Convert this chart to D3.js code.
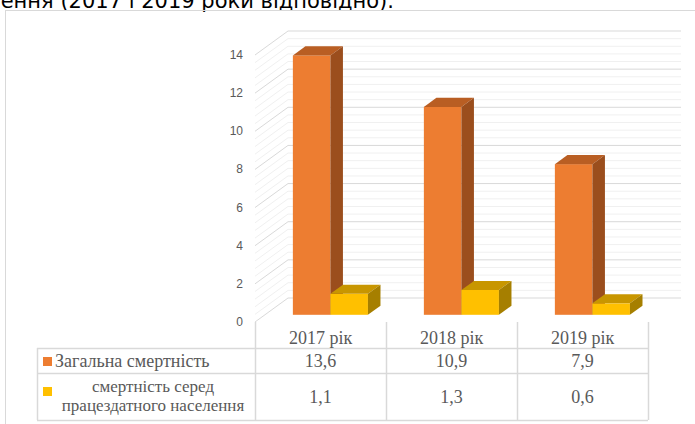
<!DOCTYPE html>
<html>
<head>
<meta charset="utf-8">
<script src="https://cdn.jsdelivr.net/npm/d3@7"></script>
<style>
  body { margin: 0; background: #fff; }
  svg { display: block; }
</style>
</head>
<body>
<div id="vis"></div>
<script>
// data
var categories = ["2017 рік", "2018 рік", "2019 рік"];
var seriesNames = ["Загальна смертність", "смертність серед працездатного населення"];
var totalMortality = [13.6, 10.9, 7.9];
var workingAgeMortality = [1.1, 1.3, 0.6];
var valueLabels = [["13,6", "10,9", "7,9"], ["1,1", "1,3", "0,6"]];
var yTicks = [0, 2, 4, 6, 8, 10, 12, 14];

var width = 695, height = 424;
var colors = [
  { front: "#ED7D31", top: "#B95E23", side: "#9B4E1D" },
  { front: "#FFC000", top: "#C89600", side: "#A67F00" }
];

var svg = d3.select("#vis").append("svg")
  .attr("width", width)
  .attr("height", height);

// text line from the document above the chart (cut off at the top)
svg.append("text")
  .attr("x", 394)
  .attr("y", 8)
  .attr("text-anchor", "end")
  .style("font-family", "DejaVu Sans")
  .style("font-size", "21px")
  .style("fill", "#000")
  .text("населення (2017 і 2019 роки відповідно).");

// chart frame
svg.append("rect")
  .attr("x", 5.5).attr("y", 10.5)
  .attr("width", 720).attr("height", 440)
  .attr("fill", "none")
  .attr("stroke", "#D9D9D9");

////////// scales //////////
var plotLeft = 255, plotRight = 648;
var depthX = 33, depthY = -24;   // floor depth offset
var x0 = d3.scaleBand()
  .domain(categories)
  .range([plotLeft, plotRight])
  .paddingInner(0.427)
  .paddingOuter(0.2135);
var x1 = d3.scaleBand()
  .domain([0, 1])
  .range([0, x0.bandwidth()]);
var y = d3.scaleLinear()
  .domain([0, 14])
  .range([322, 55]);

function px(xv, f) { return xv + depthX * f; }
function py(yv, f) { return yv + depthY * f; }

////////// walls //////////
var minorTicks = d3.range(0, 14.001, 0.4);
var grid = svg.append("g").attr("class", "grid");

function wallLine(v, color) {
  var g = grid.append("g");
  g.append("line")
    .attr("x1", plotLeft).attr("y1", y(v))
    .attr("x2", px(plotLeft, 1)).attr("y2", py(y(v), 1))
    .attr("stroke", color);
  g.append("line")
    .attr("x1", px(plotLeft, 1)).attr("y1", py(y(v), 1))
    .attr("x2", px(plotRight, 1)).attr("y2", py(y(v), 1))
    .attr("stroke", color);
}
minorTicks.forEach(function (v) {
  if (Math.abs(v / 2 - Math.round(v / 2)) > 1e-6) wallLine(v, "#F0F0F0");
});
yTicks.forEach(function (v) { wallLine(v, "#D9D9D9"); });

// y axis labels
svg.append("g")
  .selectAll("text")
  .data(yTicks)
  .enter()
  .append("text")
  .attr("x", 243)
  .attr("y", function (d) { return y(d) + 4; })
  .attr("text-anchor", "end")
  .style("font-family", "Liberation Sans")
  .style("font-size", "12px")
  .style("fill", "#595959")
  .text(function (d) { return d; });

////////// bars //////////
var f0 = 0.3, f1 = 0.68;
var seriesData = [totalMortality, workingAgeMortality];
var bars = svg.append("g").attr("class", "bars");

categories.forEach(function (cat, i) {
  seriesData.forEach(function (vals, s) {
    var v = vals[i];
    var xl = px(x0(cat) + x1(s), f0);
    var xr = xl + x1.bandwidth();
    var yt = py(y(v), f0);
    var yb = py(y(0), f0);
    var dx = depthX * (f1 - f0), dy = depthY * (f1 - f0);
    var g = bars.append("g");
    g.append("rect")
      .attr("x", xl).attr("y", yt)
      .attr("width", xr - xl).attr("height", yb - yt)
      .attr("fill", colors[s].front);
    g.append("polygon")
      .attr("points", [[xl, yt], [xl + dx, yt + dy], [xr + dx, yt + dy], [xr, yt]].join(" "))
      .attr("fill", colors[s].top);
    g.append("polygon")
      .attr("points", [[xr, yt], [xr + dx, yt + dy], [xr + dx, yb + dy], [xr, yb]].join(" "))
      .attr("fill", colors[s].side);
  });
});

////////// data table //////////
var tableLeft = 37;
var table = svg.append("g").attr("class", "table");
var lineColor = "#D9D9D9";

// horizontal lines
[348, 373, 420].forEach(function (yy) {
  table.append("line")
    .attr("x1", tableLeft).attr("x2", plotRight)
    .attr("y1", yy + 0.5).attr("y2", yy + 0.5)
    .attr("stroke", lineColor).attr("stroke-width", 1.5);
});
// vertical lines
table.append("line")
  .attr("x1", tableLeft + 0.5).attr("x2", tableLeft + 0.5)
  .attr("y1", 348).attr("y2", 420)
  .attr("stroke", lineColor).attr("stroke-width", 1.5);
var colEdges = categories.map(function (c) { return x0(c) - x0.step() * x0.paddingOuter(); });
colEdges.push(plotRight);
colEdges.forEach(function (xx) {
  table.append("line")
    .attr("x1", xx + 0.5).attr("x2", xx + 0.5)
    .attr("y1", 322).attr("y2", 420)
    .attr("stroke", lineColor).attr("stroke-width", 1.5);
});

var serif = "Liberation Serif";
function colCenter(c) { return x0(c) + x0.bandwidth() / 2; }

// header
table.selectAll("text.cat")
  .data(categories)
  .enter()
  .append("text")
  .attr("class", "cat")
  .attr("x", colCenter)
  .attr("y", 344)
  .attr("text-anchor", "middle")
  .style("font-family", serif)
  .style("font-size", "18px")
  .style("fill", "#595959")
  .text(function (d) { return d; });

// values
var rowBase = [367, 403];
valueLabels.forEach(function (row, s) {
  table.selectAll("text.v" + s)
    .data(row)
    .enter()
    .append("text")
    .attr("class", "v" + s)
    .attr("x", function (d, i) { return colCenter(categories[i]); })
    .attr("y", rowBase[s])
    .attr("text-anchor", "middle")
    .style("font-family", serif)
    .style("font-size", "18px")
    .style("fill", "#595959")
    .text(function (d) { return d; });
});

// legend keys and row labels
table.append("rect")
  .attr("x", 43).attr("y", 357).attr("width", 9).attr("height", 9)
  .attr("fill", colors[0].front);
table.append("rect")
  .attr("x", 43).attr("y", 387).attr("width", 9).attr("height", 9)
  .attr("fill", colors[1].front);

table.append("text")
  .attr("x", 55)
  .attr("y", 367)
  .style("font-family", serif)
  .style("font-size", "18px")
  .style("fill", "#595959")
  .text(seriesNames[0]);

table.append("text")
  .attr("x", 153).attr("y", 392)
  .attr("text-anchor", "middle")
  .style("font-family", serif)
  .style("font-size", "17px")
  .style("fill", "#595959")
  .text("смертність серед");
table.append("text")
  .attr("x", 153).attr("y", 411)
  .attr("text-anchor", "middle")
  .style("font-family", serif)
  .style("font-size", "17px")
  .style("fill", "#595959")
  .text("працездатного населення");
</script>
</body>
</html>
